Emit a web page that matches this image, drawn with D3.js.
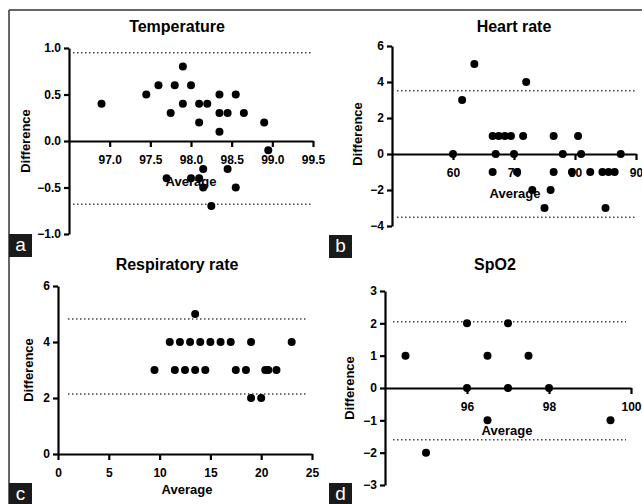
<!DOCTYPE html>
<html><head><meta charset="utf-8">
<script src="https://cdn.jsdelivr.net/npm/d3@7"></script>
<style>
html,body{margin:0;padding:0;background:#fff;}
text{font-family:"Liberation Sans",Arial,sans-serif;}
</style></head>
<body><svg id="c" width="642" height="504"></svg>
<script>
// ---- data ----
const tempAvg  = [96.9, 97.45, 97.6, 97.8, 97.9, 98.0, 97.75, 97.9, 98.1, 98.2, 98.1, 98.35, 98.55, 98.35, 98.45, 98.65, 98.35, 98.9, 98.95, 97.7, 98.0, 98.1, 98.15, 98.15, 98.45, 98.55, 98.25];
const tempDiff = [0.4, 0.5, 0.6, 0.6, 0.8, 0.6, 0.3, 0.4, 0.4, 0.4, 0.2, 0.5, 0.5, 0.3, 0.3, 0.3, 0.1, 0.2, -0.1, -0.4, -0.4, -0.4, -0.3, -0.5, -0.3, -0.5, -0.7];
const tempLimits = [0.95, -0.68];
const tempXTicks = [97.0, 97.5, 98.0, 98.5, 99.0, 99.5];
const tempYTicks = [-1.0, -0.5, 0.0, 0.5, 1.0];

const hrAvg  = [61.5, 63.5, 60, 72, 66.5, 67.5, 68.5, 69.5, 71.5, 67, 70, 66.5, 70.5, 73, 75, 76, 76.5, 76.5, 78, 79.5, 80.5, 81, 82.5, 84.5, 85.5, 86.5, 85, 87.5];
const hrDiff = [3, 5, 0, 4, 1, 1, 1, 1, 1, 0, 0, -1, -1, -2, -3, -2, 1, -1, 0, -1, 1, 0, -1, -1, -1, -1, -3, 0];
const hrLimits = [3.52, -3.52];
const hrXTicks = [60, 70, 80, 90];
const hrYTicks = [-4, -2, 0, 2, 4, 6];

const rrAvg  = [9.5, 11, 12, 13, 14, 15, 16, 17, 19, 23, 13.5, 11.5, 12.5, 13.5, 14.5, 17.5, 18.5, 20.4, 20.7, 21.5, 19, 20];
const rrDiff = [3, 4, 4, 4, 4, 4, 4, 4, 4, 4, 5, 3, 3, 3, 3, 3, 3, 3, 3, 3, 2, 2];
const rrLimits = [4.82, 2.14];
const rrXTicks = [0, 5, 10, 15, 20, 25];
const rrYTicks = [0, 2, 4, 6];

const spAvg  = [94.5, 95, 96, 96, 96.5, 96.5, 97, 97, 97.5, 98, 99.5];
const spDiff = [1, -2, 2, 0, 1, -1, 2, 0, 1, 0, -1];
const spLimits = [2.05, -1.6];
const spXTicks = [96, 98, 100];
const spYTicks = [-3, -2, -1, 0, 1, 2, 3];

// ---- panels (layout separate from data) ----
const panels = [
  {title:"Temperature", letter:"a", avg:tempAvg, diff:tempDiff, lim:tempLimits, xt:tempXTicks, yt:tempYTicks, fmt:d3.format(".1f"),
   xd:[96.5,99.5], xr:[69,313], yd:[-1,1], yr:[234,48], limX:[73,311],
   tx:177, ty:32, ax:191, ay:186, dx:30, dy:141, box:[9,234]},
  {title:"Heart rate", letter:"b", avg:hrAvg, diff:hrDiff, lim:hrLimits, xt:hrXTicks, yt:hrYTicks, fmt:d3.format("d"),
   xd:[50,90], xr:[392,636], yd:[-4,6], yr:[226,46], limX:[397,635],
   tx:514, ty:32, ax:515, ay:198, dx:362, dy:134, box:[329,235]},
  {title:"Respiratory rate", letter:"c", avg:rrAvg, diff:rrDiff, lim:rrLimits, xt:rrXTicks, yt:rrYTicks, fmt:d3.format("d"),
   xd:[0,25], xr:[58,312], yd:[0,6], yr:[454,286], limX:[68,308],
   tx:177, ty:270, ax:187, ay:494, dx:33, dy:370, box:[9,483]},
  {title:"SpO2", letter:"d", avg:spAvg, diff:spDiff, lim:spLimits, xt:spXTicks, yt:spYTicks, fmt:d3.format("d"),
   xd:[94,100], xr:[385,631], yd:[-3,3], yr:[485,291], limX:[393,626],
   tx:495, ty:270, ax:507, ay:435, dx:354, dy:388, box:[329,483]}
];

const svg = d3.select("#c");

// outer frame lines
svg.append("line").attr("x1",9).attr("x2",642).attr("y1",10).attr("y2",10).attr("stroke","#333").attr("stroke-width",1.5);
svg.append("line").attr("x1",9).attr("x2",9).attr("y1",10).attr("y2",504).attr("stroke","#333").attr("stroke-width",1.5);

panels.forEach(p => {
  const g = svg.append("g");
  const x = d3.scaleLinear().domain(p.xd).range(p.xr);
  const y = d3.scaleLinear().domain(p.yd).range(p.yr);

  // limits of agreement (dotted)
  p.lim.forEach(v => {
    g.append("line").attr("x1",p.limX[0]).attr("x2",p.limX[1]).attr("y1",y(v)).attr("y2",y(v))
      .attr("stroke","#444").attr("stroke-width",1.5).attr("stroke-dasharray","1.5,2.5");
  });

  // axes
  const xAxis = d3.axisBottom(x).tickValues(p.xt).tickFormat(p.fmt).tickSize(6).tickPadding(8).tickSizeOuter(0);
  const yAxis = d3.axisLeft(y).tickValues(p.yt).tickFormat(p.fmt).tickSize(5).tickPadding(3).tickSizeOuter(0);
  const gx = g.append("g").attr("transform",`translate(0,${y(0)})`).call(xAxis);
  const gy = g.append("g").attr("transform",`translate(${p.xr[0]},0)`).call(yAxis);
  [gx,gy].forEach(a => {
    a.selectAll("path").attr("stroke","#000").attr("stroke-width",2.2);
    a.selectAll("line").attr("stroke","#000").attr("stroke-width",2.2);
    a.selectAll("text").attr("fill","#000").style("font-size","12px").style("font-weight","bold")
      .style("font-family","'Liberation Sans',Arial,sans-serif");
  });

  // points
  g.selectAll("circle").data(p.avg.map((a,i)=>[a,p.diff[i]])).enter().append("circle")
    .attr("cx",d=>x(d[0])).attr("cy",d=>y(d[1])).attr("r",4).attr("fill","#000");

  // title
  g.append("text").attr("x",p.tx).attr("y",p.ty).attr("text-anchor","middle")
    .style("font-size","16px").style("font-weight","bold").attr("fill","#000").text(p.title);
  // x label
  g.append("text").attr("x",p.ax).attr("y",p.ay).attr("text-anchor","middle")
    .style("font-size","13px").style("font-weight","bold").attr("fill","#000").text("Average");
  // y label
  g.append("text").attr("transform",`translate(${p.dx},${p.dy}) rotate(-90)`).attr("text-anchor","middle")
    .style("font-size","13px").style("font-weight","bold").attr("fill","#000").text("Difference");

  // panel letter box
  g.append("rect").attr("x",p.box[0]).attr("y",p.box[1]).attr("width",23).attr("height",23).attr("fill","#1a1a1a");
  g.append("text").attr("x",p.box[0]+11.5).attr("y",p.box[1]+17).attr("text-anchor","middle")
    .style("font-size","19px").attr("fill","#fff").text(p.letter);
});
</script>
</body></html>
